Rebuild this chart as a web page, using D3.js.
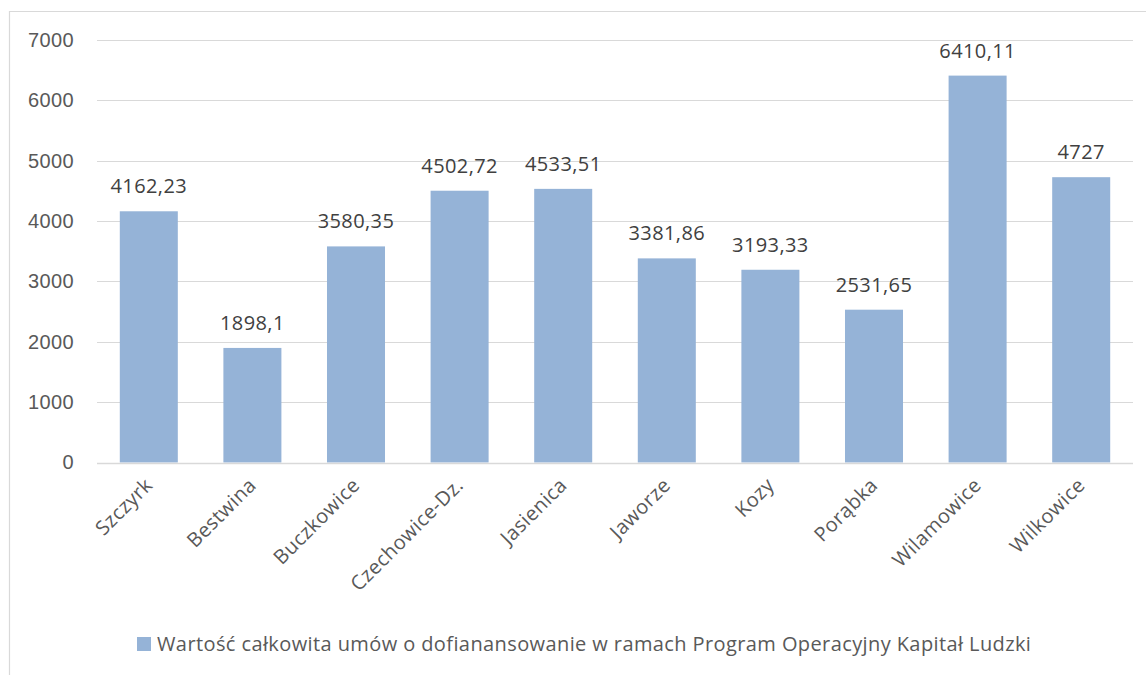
<!DOCTYPE html>
<html>
<head>
<meta charset="utf-8">
<script src="https://cdn.jsdelivr.net/npm/d3@7"></script>
<style>
  body { margin: 0; background: #fff; }
  svg { display: block; font-family: "Open Sans", sans-serif; }
  text { letter-spacing: 0.4px; }
</style>
</head>
<body>
<div id="chart"></div>
<script>
// dane z wykresu
const gminy = ["Szczyrk", "Bestwina", "Buczkowice", "Czechowice-Dz.", "Jasienica",
  "Jaworze", "Kozy", "Porąbka", "Wilamowice", "Wilkowice"];
const wartosci = [4162.23, 1898.1, 3580.35, 4502.72, 4533.51, 3381.86, 3193.33, 2531.65, 6410.11, 4727];
const etykiety = ["4162,23", "1898,1", "3580,35", "4502,72", "4533,51", "3381,86", "3193,33", "2531,65", "6410,11", "4727"];
const yTicki = [0, 1000, 2000, 3000, 4000, 5000, 6000, 7000];
const legenda = "Wartość całkowita umów o dofianansowanie w ramach Program Operacyjny Kapitał Ludzki";

const width = 1146, height = 675;
const margin = { top: 40, left: 97, right: 13, bottom: 213 };

const svg = d3.select("#chart").append("svg")
  .attr("width", width)
  .attr("height", height);

// ramka wykresu (ucieta z prawej i z dolu)
svg.append("path")
  .attr("d", `M9.5,${height + 2} V11.5 H${width + 2}`)
  .attr("fill", "none")
  .attr("stroke", "#d9d9d9")
  .attr("stroke-width", 1.2);

const x = d3.scaleBand()
  .domain(gminy)
  .range([margin.left, width - margin.right])
  .paddingInner(0.44)
  .paddingOuter(0.22);

const y = d3.scaleLinear()
  .domain([0, 7000])
  .range([height - margin.bottom + 0.5, margin.top]);

// linie siatki
svg.append("g")
  .selectAll("line")
  .data(yTicki)
  .join("line")
  .attr("x1", margin.left)
  .attr("x2", width - margin.right)
  .attr("y1", d => Math.round(y(d)) + 0.5)
  .attr("y2", d => Math.round(y(d)) + 0.5)
  .attr("stroke", "#d9d9d9")
  .attr("stroke-width", 1);

// os Y
const osY = svg.append("g")
  .attr("transform", `translate(${margin.left},0)`)
  .call(d3.axisLeft(y).tickValues(yTicki).tickFormat(d3.format("d")).tickSize(0).tickPadding(23));
osY.select(".domain").remove();
osY.selectAll("text")
  .attr("fill", "#595959")
  .style("font-size", "20px");

// slupki
svg.append("g")
  .selectAll("rect")
  .data(wartosci)
  .join("rect")
  .attr("x", (d, i) => x(gminy[i]))
  .attr("y", d => y(d))
  .attr("width", x.bandwidth())
  .attr("height", d => y(0) - y(d))
  .attr("fill", "#95b3d7");

// os X (linia na zerze)
svg.append("line")
  .attr("x1", margin.left)
  .attr("x2", width - margin.right)
  .attr("y1", Math.round(y(0)) + 0.5)
  .attr("y2", Math.round(y(0)) + 0.5)
  .attr("stroke", "#d9d9d9")
  .attr("stroke-width", 1.5);

// etykiety danych
svg.append("g")
  .selectAll("text")
  .data(wartosci)
  .join("text")
  .attr("x", (d, i) => x(gminy[i]) + x.bandwidth() / 2)
  .attr("y", d => y(d) - 18)
  .attr("text-anchor", "middle")
  .attr("fill", "#404040")
  .style("font-size", "20px")
  .text((d, i) => etykiety[i]);

// podpisy kategorii, obrocone o -45
svg.append("g")
  .selectAll("text")
  .data(gminy)
  .join("text")
  .attr("transform", d => `translate(${x(d) + x.bandwidth() / 2 + 5},${y(0) + 24}) rotate(-45)`)
  .attr("text-anchor", "end")
  .attr("fill", "#595959")
  .style("font-size", "20px")
  .text(d => d);

// legenda
const leg = svg.append("g").attr("transform", "translate(137,637)");
leg.append("rect")
  .attr("width", 14)
  .attr("height", 14)
  .attr("fill", "#95b3d7");
leg.append("text")
  .attr("x", 20)
  .attr("y", 14)
  .attr("fill", "#595959")
  .style("font-size", "20px")
  .text(legenda);
</script>
</body>
</html>
